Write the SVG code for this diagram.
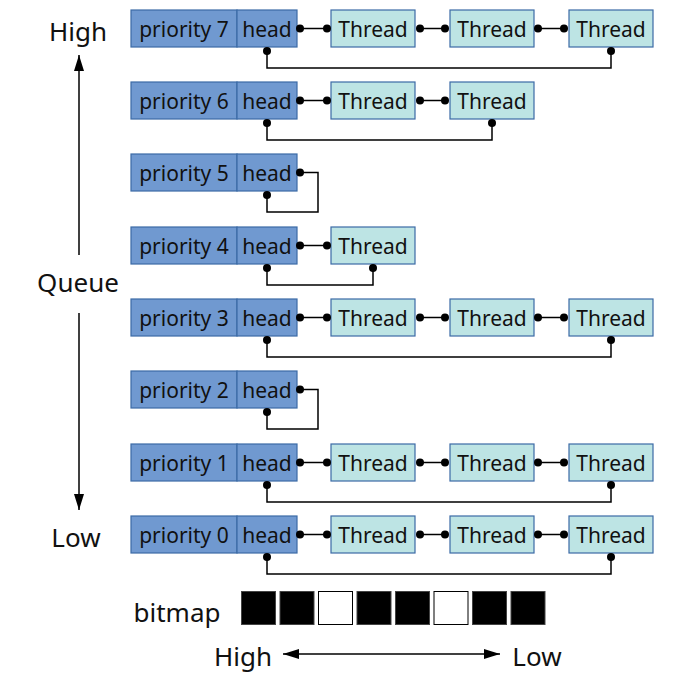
<svg xmlns="http://www.w3.org/2000/svg" width="680" height="680" viewBox="0 0 680 680">
<style>
.pr{fill:#7099d0;stroke:#3b6aa6;stroke-width:1.2}
.th{fill:#bde4e4;stroke:#3b6aa6;stroke-width:1.2}
.t{font-family:"Noto Sans","DejaVu Sans",sans-serif;font-size:21px;fill:#111;text-anchor:middle}
.big{font-family:"Noto Sans","DejaVu Sans",sans-serif;font-size:26px;fill:#111;text-anchor:middle}
.ln{fill:none;stroke:#000;stroke-width:1.5}
.dot{fill:#000}
.bk{fill:#000;stroke:#444;stroke-width:1}
.wh{fill:#fff;stroke:#000;stroke-width:1}
</style>
<defs>
<marker id="ah" viewBox="0 0 16 10" refX="16" refY="5" markerWidth="16" markerHeight="10" markerUnits="userSpaceOnUse" orient="auto-start-reverse">
<path d="M0,0 L16,5 L0,10 Z" fill="#000"/>
</marker>
</defs>

<g id="axis">
<text class="big" x="78" y="41">High</text>
<text class="big" x="78" y="292">Queue</text>
<text class="big" x="76" y="547">Low</text>
<line class="ln" x1="79" y1="255" x2="79" y2="55" marker-end="url(#ah)"/>
<line class="ln" x1="79" y1="313" x2="79" y2="510" marker-end="url(#ah)"/>
</g>

<!-- Row 7 -->
<g id="p7"><rect class="pr" x="131" y="10" width="106" height="37"/><text class="t" x="184" y="37">priority 7</text></g>
<g id="h7"><rect class="pr" x="237" y="10" width="60" height="37"/><text class="t" x="267" y="37">head</text></g>
<g id="t7a"><rect class="th" x="331" y="10" width="84" height="37"/><text class="t" x="373" y="37">Thread</text></g>
<g id="t7b"><rect class="th" x="450" y="10" width="84" height="37"/><text class="t" x="492" y="37">Thread</text></g>
<g id="t7c"><rect class="th" x="569" y="10" width="84" height="37"/><text class="t" x="611" y="37">Thread</text></g>

<!-- Row 6 -->
<g id="p6"><rect class="pr" x="131" y="82" width="106" height="37"/><text class="t" x="184" y="109">priority 6</text></g>
<g id="h6"><rect class="pr" x="237" y="82" width="60" height="37"/><text class="t" x="267" y="109">head</text></g>
<g id="t6a"><rect class="th" x="331" y="82" width="84" height="37"/><text class="t" x="373" y="109">Thread</text></g>
<g id="t6b"><rect class="th" x="450" y="82" width="84" height="37"/><text class="t" x="492" y="109">Thread</text></g>

<!-- Row 5 -->
<g id="p5"><rect class="pr" x="131" y="154" width="106" height="37"/><text class="t" x="184" y="181">priority 5</text></g>
<g id="h5"><rect class="pr" x="237" y="154" width="60" height="37"/><text class="t" x="267" y="181">head</text></g>

<!-- Row 4 -->
<g id="p4"><rect class="pr" x="131" y="227" width="106" height="37"/><text class="t" x="184" y="254">priority 4</text></g>
<g id="h4"><rect class="pr" x="237" y="227" width="60" height="37"/><text class="t" x="267" y="254">head</text></g>
<g id="t4a"><rect class="th" x="331" y="227" width="84" height="37"/><text class="t" x="373" y="254">Thread</text></g>

<!-- Row 3 -->
<g id="p3"><rect class="pr" x="131" y="299" width="106" height="37"/><text class="t" x="184" y="326">priority 3</text></g>
<g id="h3"><rect class="pr" x="237" y="299" width="60" height="37"/><text class="t" x="267" y="326">head</text></g>
<g id="t3a"><rect class="th" x="331" y="299" width="84" height="37"/><text class="t" x="373" y="326">Thread</text></g>
<g id="t3b"><rect class="th" x="450" y="299" width="84" height="37"/><text class="t" x="492" y="326">Thread</text></g>
<g id="t3c"><rect class="th" x="569" y="299" width="84" height="37"/><text class="t" x="611" y="326">Thread</text></g>

<!-- Row 2 -->
<g id="p2"><rect class="pr" x="131" y="371" width="106" height="37"/><text class="t" x="184" y="398">priority 2</text></g>
<g id="h2"><rect class="pr" x="237" y="371" width="60" height="37"/><text class="t" x="267" y="398">head</text></g>

<!-- Row 1 -->
<g id="p1"><rect class="pr" x="131" y="444" width="106" height="37"/><text class="t" x="184" y="471">priority 1</text></g>
<g id="h1"><rect class="pr" x="237" y="444" width="60" height="37"/><text class="t" x="267" y="471">head</text></g>
<g id="t1a"><rect class="th" x="331" y="444" width="84" height="37"/><text class="t" x="373" y="471">Thread</text></g>
<g id="t1b"><rect class="th" x="450" y="444" width="84" height="37"/><text class="t" x="492" y="471">Thread</text></g>
<g id="t1c"><rect class="th" x="569" y="444" width="84" height="37"/><text class="t" x="611" y="471">Thread</text></g>

<!-- Row 0 -->
<g id="p0"><rect class="pr" x="131" y="516" width="106" height="37"/><text class="t" x="184" y="543">priority 0</text></g>
<g id="h0"><rect class="pr" x="237" y="516" width="60" height="37"/><text class="t" x="267" y="543">head</text></g>
<g id="t0a"><rect class="th" x="331" y="516" width="84" height="37"/><text class="t" x="373" y="543">Thread</text></g>
<g id="t0b"><rect class="th" x="450" y="516" width="84" height="37"/><text class="t" x="492" y="543">Thread</text></g>
<g id="t0c"><rect class="th" x="569" y="516" width="84" height="37"/><text class="t" x="611" y="543">Thread</text></g>

<g id="connectors">
<!-- row 7 -->
<path class="ln" d="M300,28.5H327M421,28.5H446M537,28.5H565M267,51V68H611V51"/>
<g class="dot"><circle cx="300" cy="28.5" r="4"/><circle cx="327" cy="28.5" r="4"/><circle cx="420" cy="28.5" r="4"/><circle cx="445" cy="28.5" r="4"/><circle cx="538" cy="28.5" r="4"/><circle cx="564" cy="28.5" r="4"/><circle cx="267" cy="51" r="4"/><circle cx="611" cy="51" r="4"/></g>
<!-- row 6 -->
<path class="ln" d="M300,100.5H327M421,100.5H446M267,123V140H492V123"/>
<g class="dot"><circle cx="300" cy="100.5" r="4"/><circle cx="327" cy="100.5" r="4"/><circle cx="420" cy="100.5" r="4"/><circle cx="445" cy="100.5" r="4"/><circle cx="267" cy="123" r="4"/><circle cx="492" cy="123" r="4"/></g>
<!-- row 5 -->
<path class="ln" d="M300,172.5H318V212H267V195"/>
<g class="dot"><circle cx="300" cy="172.5" r="4"/><circle cx="267" cy="195" r="4"/></g>
<!-- row 4 -->
<path class="ln" d="M300,245.5H327M267,268V285H373V268"/>
<g class="dot"><circle cx="300" cy="245.5" r="4"/><circle cx="327" cy="245.5" r="4"/><circle cx="267" cy="268" r="4"/><circle cx="373" cy="268" r="4"/></g>
<!-- row 3 -->
<path class="ln" d="M300,317.5H327M421,317.5H446M537,317.5H565M267,340V357H611V340"/>
<g class="dot"><circle cx="300" cy="317.5" r="4"/><circle cx="327" cy="317.5" r="4"/><circle cx="420" cy="317.5" r="4"/><circle cx="445" cy="317.5" r="4"/><circle cx="538" cy="317.5" r="4"/><circle cx="564" cy="317.5" r="4"/><circle cx="267" cy="340" r="4"/><circle cx="611" cy="340" r="4"/></g>
<!-- row 2 -->
<path class="ln" d="M300,389.5H318V429H267V412"/>
<g class="dot"><circle cx="300" cy="389.5" r="4"/><circle cx="267" cy="412" r="4"/></g>
<!-- row 1 -->
<path class="ln" d="M300,462.5H327M421,462.5H446M537,462.5H565M267,485V502H611V485"/>
<g class="dot"><circle cx="300" cy="462.5" r="4"/><circle cx="327" cy="462.5" r="4"/><circle cx="420" cy="462.5" r="4"/><circle cx="445" cy="462.5" r="4"/><circle cx="538" cy="462.5" r="4"/><circle cx="564" cy="462.5" r="4"/><circle cx="267" cy="485" r="4"/><circle cx="611" cy="485" r="4"/></g>
<!-- row 0 -->
<path class="ln" d="M300,534.5H327M421,534.5H446M537,534.5H565M267,557V574H611V557"/>
<g class="dot"><circle cx="300" cy="534.5" r="4"/><circle cx="327" cy="534.5" r="4"/><circle cx="420" cy="534.5" r="4"/><circle cx="445" cy="534.5" r="4"/><circle cx="538" cy="534.5" r="4"/><circle cx="564" cy="534.5" r="4"/><circle cx="267" cy="557" r="4"/><circle cx="611" cy="557" r="4"/></g>
</g>

<g id="bitmap">
<text class="big" x="177" y="622">bitmap</text>
<rect class="bk" x="241.5" y="591.5" width="34" height="33"/>
<rect class="bk" x="280" y="591.5" width="34" height="33"/>
<rect class="wh" x="318.5" y="591.5" width="34" height="33"/>
<rect class="bk" x="357" y="591.5" width="34" height="33"/>
<rect class="bk" x="395.5" y="591.5" width="34" height="33"/>
<rect class="wh" x="434" y="591.5" width="34" height="33"/>
<rect class="bk" x="472.5" y="591.5" width="34" height="33"/>
<rect class="bk" x="511" y="591.5" width="34" height="33"/>
<text class="big" x="243" y="666">High</text>
<text class="big" x="537" y="666">Low</text>
<line class="ln" x1="283" y1="654" x2="500" y2="654" marker-start="url(#ah)" marker-end="url(#ah)"/>
</g>
</svg>
